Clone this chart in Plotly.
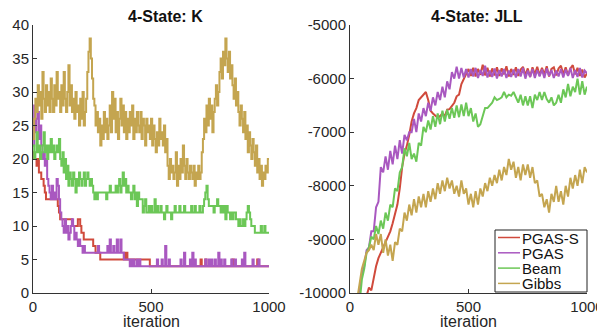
import plotly.graph_objects as go

# ---------------- data ----------------
series_names = ["PGAS-S", "PGAS", "Beam", "Gibbs"]
series_colors = ["#D04A3C", "#A958C0", "#6CC757", "#C4A550"]

k_iter = list(range(0, 1001, 5))

k_pgas_s = [21,20,20,19,20,18,18,17,17,16,
            15,14,14,14,14,14,14,14,14,14,
            14,13,12,11,11,11,11,11,11,11,
            11,11,11,10,10,10,10,10,11,11,
            10,9,9,8,8,8,8,8,8,8,
            8,7,7,6,6,6,6,5,5,5,
            5,5,5,5,5,5,5,5,5,5,
            5,5,5,5,5,5,5,6,5,6,
            5,5,5,5,5,5,5,5,5,5,
            5,5,5,5,5,5,5,5,5,4,
            4,4,4,4,4,4,4,4,4,4,
            4,4,4,4,4,4,4,4,4,4,
            4,4,4,4,4,4,4,4,4,4,
            4,4,4,4,4,4,4,4,4,4,
            4,4,5,4,4,4,5,4,4,4,
            4,4,4,4,4,4,4,4,4,4,
            4,4,4,4,4,4,4,4,4,5,
            4,4,4,4,4,4,4,4,4,4,
            4,4,4,4,4,4,4,4,4,4,
            5,4,4,4,4,4,4,4,4,4,
            4]

k_pgas = [22,28,24,26,27,23,25,22,20,21,
          19,20,17,16,15,14,16,14,15,14,
          17,16,14,12,11,10,9,11,9,10,
          8,9,10,11,10,8,9,8,7,8,
          7,7,6,7,6,6,6,6,6,6,
          6,6,6,6,6,7,6,6,6,6,
          6,6,6,7,6,8,6,6,7,6,
          6,8,6,6,8,6,6,5,5,5,
          5,5,4,5,4,5,4,4,5,4,
          5,4,4,4,4,4,4,4,4,4,
          4,4,4,4,4,5,4,4,4,5,
          4,4,7,4,4,5,4,4,4,4,
          4,4,4,4,4,5,4,4,6,4,
          4,4,4,5,4,6,4,5,4,4,
          4,4,4,4,4,4,5,4,4,5,
          4,5,4,4,5,4,4,6,4,5,
          4,4,5,4,4,4,4,4,5,4,
          4,5,4,4,4,4,4,5,4,6,
          4,4,4,4,4,4,5,4,4,4,
          4,5,4,4,4,4,4,4,4,4,
          4]

k_beam = [22,20,21,24,21,22,20,21,22,24,
          21,22,20,22,21,23,21,22,20,21,
          22,21,23,20,19,21,18,20,17,19,
          16,18,17,16,18,17,15,17,16,18,
          17,16,17,18,16,17,18,17,16,17,
          16,15,14,15,14,15,15,15,15,15,
          15,15,14,15,15,16,15,15,15,15,
          16,15,16,17,15,16,18,16,17,15,
          16,15,15,14,15,16,14,15,13,15,
          14,14,14,12,13,14,12,12,13,12,
          13,12,12,14,12,13,12,12,13,12,
          12,11,12,13,12,12,12,11,12,12,
          13,12,12,12,13,12,12,12,13,12,
          12,12,12,12,13,12,12,13,12,12,
          12,13,12,12,13,14,15,16,14,13,
          13,13,13,12,13,13,14,13,13,12,
          13,12,13,11,13,12,12,11,12,11,
          12,12,11,11,10,11,10,10,11,10,
          11,12,13,12,11,10,10,10,9,9,
          9,9,9,10,9,9,10,9,9,9,
          9]

k_gibbs = [23,26,29,27,31,28,30,26,33,29,
           27,31,28,30,27,32,29,27,31,28,
           33,29,30,27,31,28,33,29,27,30,
           34,28,31,27,29,26,30,27,28,25,
           29,26,30,25,27,29,33,36,38,35,
           32,29,28,25,27,24,26,22,25,23,
           27,24,26,23,25,28,24,30,26,29,
           24,27,23,26,29,25,28,24,27,23,
           26,24,27,25,28,23,26,24,27,25,
           24,27,23,26,25,22,26,24,25,23,
           26,22,25,23,21,24,22,26,23,24,
           22,25,21,23,19,17,20,18,19,17,
           18,21,16,19,17,20,18,22,19,17,
           20,18,17,19,18,17,19,16,18,17,
           19,17,18,21,23,26,24,28,25,29,
           26,28,24,27,29,31,28,30,33,35,
           32,36,34,38,35,33,36,32,34,31,
           29,32,28,30,27,25,28,26,24,27,
           23,25,21,24,22,20,23,21,19,22,
           18,20,17,19,16,18,17,19,18,20,
           20]

jll_iter = list(range(0, 1001, 10))

jll_pgas_s = [-11500,-11300,-11000,-10800,-10600,-10400,-10200,-10050,-9900,-9950,
              -9700,-9500,-9350,-9250,-9150,-9050,-8950,-8850,-8700,-8500,
              -8350,-8050,-7650,-7400,-7250,-7050,-6800,-6650,-6550,-6400,
              -6350,-6300,-6250,-6400,-6600,-6650,-6700,-6730,-6700,-6650,
              -6700,-6580,-6570,-6500,-6450,-6330,-6300,-6100,-6000,-5900,
              -5820,-5950,-5800,-5960,-5820,-5930,-5740,-5940,-5800,-5960,
              -5810,-5940,-5790,-5950,-5810,-5920,-5770,-5960,-5820,-5930,
              -5790,-5950,-5830,-5780,-5940,-5810,-5970,-5790,-5920,-5780,
              -5940,-5800,-5920,-5770,-5960,-5820,-5790,-5940,-5810,-5760,
              -5920,-5790,-5940,-5810,-5750,-5920,-5800,-5950,-5830,-5980,
              -5900]

jll_pgas = [-11000,-10800,-10500,-10200,-9950,-9650,-9500,-9200,-9150,-8850,
            -8850,-8400,-8300,-7650,-7750,-7450,-7700,-7350,-7600,-7250,
            -7500,-7150,-7400,-7050,-7150,-7000,-7000,-6750,-7000,-6650,
            -6800,-6550,-6700,-6450,-6600,-6350,-6500,-6250,-6400,-6150,
            -6350,-6050,-6200,-5880,-6000,-5780,-6000,-5800,-5980,-5820,
            -5980,-5820,-5960,-5800,-5990,-5840,-5950,-5760,-5980,-5850,
            -5970,-5810,-6000,-5840,-5960,-5820,-5990,-5850,-5970,-5830,
            -5980,-5820,-5960,-5800,-6000,-5850,-5970,-5820,-5990,-5840,
            -5960,-5830,-5990,-5810,-5950,-5840,-5990,-5850,-5960,-5820,
            -5980,-5830,-5950,-5800,-5990,-5840,-5970,-5800,-5980,-5850,
            -5900]

jll_beam = [-11500,-11200,-10900,-10600,-10200,-9750,-9550,-9250,-9150,-8950,
            -9000,-8750,-8900,-8650,-8800,-8500,-8650,-8350,-8400,-8050,
            -8100,-7750,-7650,-7300,-7450,-7200,-7500,-7400,-7550,-7200,
            -7250,-6900,-7000,-6780,-6950,-6700,-6900,-6650,-6850,-6600,
            -6800,-6580,-6750,-6550,-6730,-6500,-6720,-6480,-6700,-6450,
            -6700,-6550,-6800,-6650,-6900,-6850,-6700,-6550,-6550,-6500,
            -6450,-6350,-6400,-6380,-6350,-6250,-6350,-6300,-6320,-6250,
            -6350,-6450,-6300,-6500,-6330,-6500,-6330,-6550,-6300,-6400,
            -6250,-6400,-6250,-6380,-6450,-6350,-6500,-6450,-6300,-6450,
            -6200,-6350,-6100,-6330,-6150,-6250,-6000,-6300,-6050,-6300,
            -6150]

jll_gibbs = [-11000,-10700,-10400,-10100,-9800,-9550,-9400,-9250,-9200,-9100,
             -9200,-8900,-9100,-8900,-9250,-9000,-9300,-9100,-9400,-9050,
             -9100,-8800,-8850,-8500,-8650,-8350,-8550,-8250,-8500,-8200,
             -8400,-8150,-8400,-8100,-8300,-8050,-8250,-7950,-8150,-7900,
             -8100,-7850,-8050,-7900,-8150,-8000,-8200,-7900,-8150,-8050,
             -8350,-8150,-8400,-8100,-8350,-8050,-8200,-7950,-8100,-7850,
             -8000,-7800,-7950,-7700,-7900,-7650,-7800,-7500,-7700,-7550,
             -7850,-7650,-7900,-7600,-7800,-7600,-7850,-7650,-7950,-7900,
             -8200,-8150,-8400,-8250,-8500,-8150,-8300,-8000,-8300,-8100,
             -8350,-8000,-8200,-7850,-8050,-7800,-8000,-7700,-7950,-7650,
             -7750]

k_ticks = [0, 5, 10, 15, 20, 25, 30, 35, 40]
jll_ticks = [-10000, -9000, -8000, -7000, -6000, -5000]
x_ticks = [0, 500, 1000]
titles = ["4-State: K", "4-State: JLL"]
x_label = "iteration"

# ---------------- figure ----------------
FONT = "Liberation Sans, Arial, Helvetica, sans-serif"
W, H = 605, 329
OFF = 8  # default page margin around the plot div
TXT = "#262626"

def px_x(p):
    return (p - OFF) / W

def px_y(p):
    return 1 - (p - OFF) / H

fig = go.Figure()
k_series = [k_pgas_s, k_pgas, k_beam, k_gibbs]
jll_series = [jll_pgas_s, jll_pgas, jll_beam, jll_gibbs]

for name, col, ys in zip(series_names, series_colors, k_series):
    fig.add_trace(go.Scatter(x=k_iter, y=ys, mode="lines", name=name,
                             line=dict(color=col, width=2, shape="hv"),
                             xaxis="x", yaxis="y", showlegend=False))
for name, col, ys in zip(series_names, series_colors, jll_series):
    fig.add_trace(go.Scatter(x=jll_iter, y=ys, mode="lines", name=name,
                             line=dict(color=col, width=2),
                             xaxis="x2", yaxis="y2", showlegend=False))

axis_common = dict(showgrid=False, zeroline=False, showline=True,
                   linecolor="#333333", linewidth=1, ticks="inside",
                   ticklen=4, tickcolor="#333333", mirror=False,
                   automargin=False,
                   tickfont=dict(family=FONT, size=15, color=TXT))

fig.update_layout(
    width=W, height=H,
    margin=dict(l=0, r=0, t=0, b=0, autoexpand=False),
    paper_bgcolor="white", plot_bgcolor="white",
    font=dict(family=FONT, size=15, color=TXT),
    showlegend=False,
    xaxis=dict(domain=[px_x(33), px_x(269)], range=[0, 1000],
               tickvals=x_ticks, ticktext=[str(v) for v in x_ticks],
               anchor="y", **axis_common),
    yaxis=dict(domain=[px_y(293), px_y(25)], range=[0, 40],
               tickvals=k_ticks, ticktext=[str(v) for v in k_ticks],
               anchor="x", **axis_common),
    xaxis2=dict(domain=[px_x(350), px_x(587)], range=[0, 1000],
                tickvals=x_ticks, ticktext=[str(v) for v in x_ticks],
                anchor="y2", **axis_common),
    yaxis2=dict(domain=[px_y(293), px_y(25)], range=[-10000, -5000],
                tickvals=jll_ticks, ticktext=[str(v) for v in jll_ticks],
                anchor="x2", **axis_common),
)

annots = []
shapes = []
for t, cx in zip(titles, [165, 477]):
    annots.append(dict(text="<b>" + t + "</b>", x=px_x(cx), y=px_y(17),
                       xref="paper", yref="paper", showarrow=False,
                       xanchor="center", yanchor="middle",
                       font=dict(family=FONT, size=16, color="#111111")))
for cx in [151, 468]:
    annots.append(dict(text=x_label, x=px_x(cx), y=px_y(321.5),
                       xref="paper", yref="paper", showarrow=False,
                       xanchor="center", yanchor="middle",
                       font=dict(family=FONT, size=16, color=TXT)))

# legend box (inside right panel, bottom-right)
shapes.append(dict(type="rect", xref="paper", yref="paper",
                   x0=px_x(495), x1=px_x(587), y0=px_y(292), y1=px_y(230),
                   line=dict(color="#222222", width=1), fillcolor="white",
                   layer="above"))
for i, (name, col) in enumerate(zip(series_names, series_colors)):
    yc = 237.5 + i * 15.3
    shapes.append(dict(type="line", xref="paper", yref="paper",
                       x0=px_x(498), x1=px_x(520), y0=px_y(yc), y1=px_y(yc),
                       line=dict(color=col, width=1.5), layer="above"))
    annots.append(dict(text=name, x=px_x(520), y=px_y(yc + 0.5),
                       xref="paper", yref="paper", showarrow=False,
                       xanchor="left", yanchor="middle",
                       font=dict(family=FONT, size=15, color="#111111")))
fig.update_layout(annotations=annots, shapes=shapes)

fig.write_html("out.html")
